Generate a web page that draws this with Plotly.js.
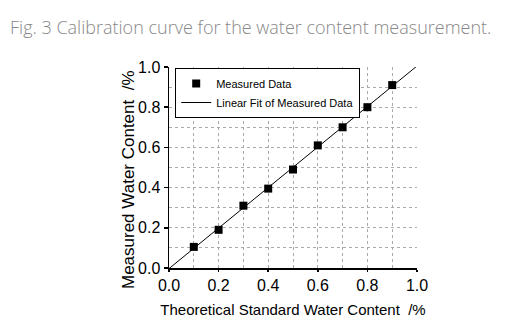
<!DOCTYPE html>
<html><head><meta charset="utf-8">
<script src="https://cdn.plot.ly/plotly-3.0.1.min.js"></script>
<style>body{margin:0;background:#fff}#c{width:528px;height:324px}</style>
</head><body><div id="c"></div>
<script>
const theoretical = [0.1, 0.2, 0.3, 0.4, 0.5, 0.6, 0.7, 0.8, 0.9];
const measured = [0.105, 0.19, 0.31, 0.395, 0.49, 0.61, 0.70, 0.80, 0.91];
const fitX = [0.0, 1.0];
const fitY = [-0.003, 1.005];
const tickVals = [0, 0.2, 0.4, 0.6, 0.8, 1.0];
const tickText = ['0.0', '0.2', '0.4', '0.6', '0.8', '1.0'];

const axisFont = {family: 'Liberation Sans, Arial, sans-serif', size: 16, color: '#000'};
const traces = [
  {x: theoretical, y: measured, mode: 'markers', name: 'Measured Data',
   marker: {symbol: 'square', size: 8, color: '#000'}},
  {x: fitX, y: fitY, mode: 'lines', name: 'Linear Fit of Measured Data',
   line: {color: '#000', width: 1}, cliponaxis: false}
];
const common = {
  range: [0, 1.0], tickvals: tickVals, ticktext: tickText,
  showline: true, linecolor: '#000', linewidth: 1.5,
  ticks: 'outside', tickwidth: 1.5, tickcolor: '#000',
  tickfont: axisFont, zeroline: false,
  showgrid: true, gridcolor: '#aaa', griddash: 'dot', gridwidth: 1,
  minor: {dtick: 0.1, tick0: 0, showgrid: true, gridcolor: '#aaa', griddash: 'dot', gridwidth: 1}
};
const layout = {
  width: 528, height: 324,
  margin: {l: 169, r: 111, t: 67, b: 56},
  paper_bgcolor: '#fff', plot_bgcolor: '#fff',
  showlegend: true,
  title: {text: 'Fig. 3 Calibration curve for the water content measurement.',
          x: 0.019, xanchor: 'left', y: 0.915, yanchor: 'middle',
          font: {family: 'Open Sans, sans-serif', size: 18, color: '#888', weight: 300}},
  xaxis: Object.assign({}, common, {
    ticklen: 2,
    title: {text: 'Theoretical Standard Water Content  /%', standoff: 12,
            font: {family: 'Liberation Sans, Arial, sans-serif', size: 15, color: '#000'}}
  }),
  yaxis: Object.assign({}, common, {ticklen: 4}),
  annotations: [{
    text: 'Measured Water Content  /%', textangle: -90, showarrow: false,
    xref: 'paper', yref: 'paper', x: -0.161, y: 0.438, xanchor: 'center', yanchor: 'middle',
    font: {family: 'Liberation Sans, Arial, sans-serif', size: 17, color: '#000'}
  }],
  legend: {x: 0.025, y: 0.995, xanchor: 'left', yanchor: 'top',
           bgcolor: '#fff', bordercolor: '#000', borderwidth: 1,
           font: {family: 'Liberation Sans, Arial, sans-serif', size: 11, color: '#000'},
           tracegroupgap: 0, itemwidth: 30}
};
Plotly.newPlot('c', traces, layout, {displayModeBar: false, staticPlot: true});
</script></body></html>
